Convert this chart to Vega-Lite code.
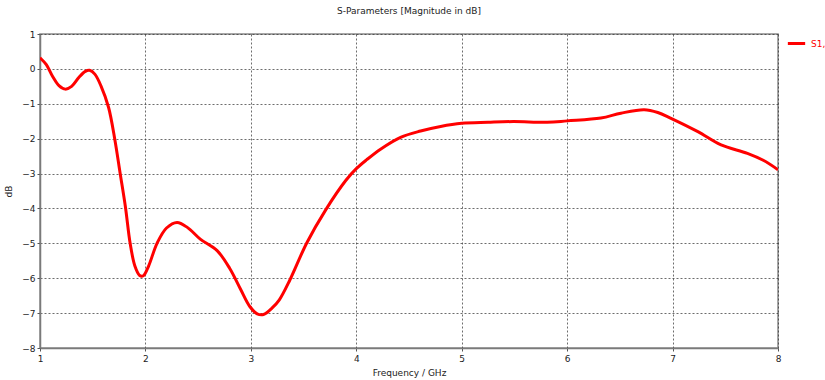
{
  "$schema": "https://vega.github.io/schema/vega-lite/v6.json",
  "width": 738,
  "height": 314,
  "autosize": "none",
  "padding": {"left": 40, "top": 34, "right": 47, "bottom": 32},
  "background": "white",
  "title": {
    "text": "S-Parameters [Magnitude in dB]",
    "font": "DejaVu Sans",
    "fontSize": 9,
    "fontWeight": "normal",
    "color": "#222222",
    "anchor": "middle",
    "frame": "group",
    "offset": 14
  },
  "config": {
    "view": {"stroke": "#8a8a8a", "strokeWidth": 1.5},
    "axis": {
      "labelFont": "DejaVu Sans",
      "labelFontSize": 9,
      "labelColor": "#222222",
      "titleFont": "DejaVu Sans",
      "titleFontSize": 9,
      "titleFontWeight": "normal",
      "titleColor": "#222222",
      "domainColor": "#7a7a7a",
      "domainWidth": 1.5,
      "tickColor": "#555555",
      "tickSize": 3,
      "gridColor": "#333333",
      "gridDash": [2, 2],
      "gridWidth": 0.8,
      "gridOpacity": 0.9
    }
  },
  "data": {
    "values": [
      {"f": 1.0, "db": 0.32, "s": "S1,1"},
      {"f": 1.06, "db": 0.12, "s": "S1,1"},
      {"f": 1.12, "db": -0.22, "s": "S1,1"},
      {"f": 1.18, "db": -0.48, "s": "S1,1"},
      {"f": 1.24, "db": -0.58, "s": "S1,1"},
      {"f": 1.3, "db": -0.5, "s": "S1,1"},
      {"f": 1.37, "db": -0.24, "s": "S1,1"},
      {"f": 1.43, "db": -0.07, "s": "S1,1"},
      {"f": 1.47, "db": -0.04, "s": "S1,1"},
      {"f": 1.52, "db": -0.15, "s": "S1,1"},
      {"f": 1.58, "db": -0.5, "s": "S1,1"},
      {"f": 1.65, "db": -1.1, "s": "S1,1"},
      {"f": 1.71, "db": -2.03, "s": "S1,1"},
      {"f": 1.76, "db": -2.99, "s": "S1,1"},
      {"f": 1.81, "db": -3.95, "s": "S1,1"},
      {"f": 1.855, "db": -5.0, "s": "S1,1"},
      {"f": 1.9, "db": -5.65, "s": "S1,1"},
      {"f": 1.945, "db": -5.92, "s": "S1,1"},
      {"f": 1.98, "db": -5.93, "s": "S1,1"},
      {"f": 2.03, "db": -5.65, "s": "S1,1"},
      {"f": 2.11, "db": -5.0, "s": "S1,1"},
      {"f": 2.2, "db": -4.56, "s": "S1,1"},
      {"f": 2.3, "db": -4.4, "s": "S1,1"},
      {"f": 2.4, "db": -4.55, "s": "S1,1"},
      {"f": 2.52, "db": -4.88, "s": "S1,1"},
      {"f": 2.68, "db": -5.21, "s": "S1,1"},
      {"f": 2.8, "db": -5.72, "s": "S1,1"},
      {"f": 2.9, "db": -6.3, "s": "S1,1"},
      {"f": 2.99, "db": -6.81, "s": "S1,1"},
      {"f": 3.06, "db": -7.02, "s": "S1,1"},
      {"f": 3.12, "db": -7.04, "s": "S1,1"},
      {"f": 3.2, "db": -6.86, "s": "S1,1"},
      {"f": 3.27, "db": -6.62, "s": "S1,1"},
      {"f": 3.37, "db": -6.05, "s": "S1,1"},
      {"f": 3.53, "db": -4.99, "s": "S1,1"},
      {"f": 3.71, "db": -4.04, "s": "S1,1"},
      {"f": 3.9, "db": -3.2, "s": "S1,1"},
      {"f": 4.0, "db": -2.86, "s": "S1,1"},
      {"f": 4.1, "db": -2.6, "s": "S1,1"},
      {"f": 4.23, "db": -2.3, "s": "S1,1"},
      {"f": 4.42, "db": -1.96, "s": "S1,1"},
      {"f": 4.61, "db": -1.78, "s": "S1,1"},
      {"f": 4.8, "db": -1.65, "s": "S1,1"},
      {"f": 5.0, "db": -1.56, "s": "S1,1"},
      {"f": 5.25, "db": -1.53, "s": "S1,1"},
      {"f": 5.49, "db": -1.51, "s": "S1,1"},
      {"f": 5.81, "db": -1.53, "s": "S1,1"},
      {"f": 6.0, "db": -1.49, "s": "S1,1"},
      {"f": 6.32, "db": -1.41, "s": "S1,1"},
      {"f": 6.51, "db": -1.27, "s": "S1,1"},
      {"f": 6.73, "db": -1.17, "s": "S1,1"},
      {"f": 6.86, "db": -1.25, "s": "S1,1"},
      {"f": 6.98, "db": -1.41, "s": "S1,1"},
      {"f": 7.24, "db": -1.8, "s": "S1,1"},
      {"f": 7.46, "db": -2.18, "s": "S1,1"},
      {"f": 7.71, "db": -2.42, "s": "S1,1"},
      {"f": 7.86, "db": -2.62, "s": "S1,1"},
      {"f": 8.0, "db": -2.89, "s": "S1,1"}
    ]
  },
  "mark": {"type": "line", "interpolate": "catmull-rom", "strokeWidth": 3, "clip": true},
  "encoding": {
    "x": {
      "field": "f",
      "type": "quantitative",
      "scale": {"domain": [1, 8], "nice": false, "zero": false},
      "axis": {"title": "Frequency / GHz", "values": [1, 2, 3, 4, 5, 6, 7, 8], "labelPadding": 3, "titlePadding": 5, "labelFlush": false}
    },
    "y": {
      "field": "db",
      "type": "quantitative",
      "scale": {"domain": [-8, 1], "nice": false, "zero": false},
      "axis": {"title": "dB", "values": [-8, -7, -6, -5, -4, -3, -2, -1, 0, 1], "titlePadding": 8, "labelFlush": false}
    },
    "color": {
      "field": "s",
      "type": "nominal",
      "scale": {"range": ["#ff0000"]},
      "legend": {
        "title": null,
        "orient": "none",
        "legendX": 746,
        "legendY": -1,
        "symbolType": "stroke",
        "symbolStrokeWidth": 3,
        "symbolSize": 300,
        "labelColor": "#ff0000",
        "labelFont": "DejaVu Sans",
        "labelFontSize": 9
      }
    }
  }
}
